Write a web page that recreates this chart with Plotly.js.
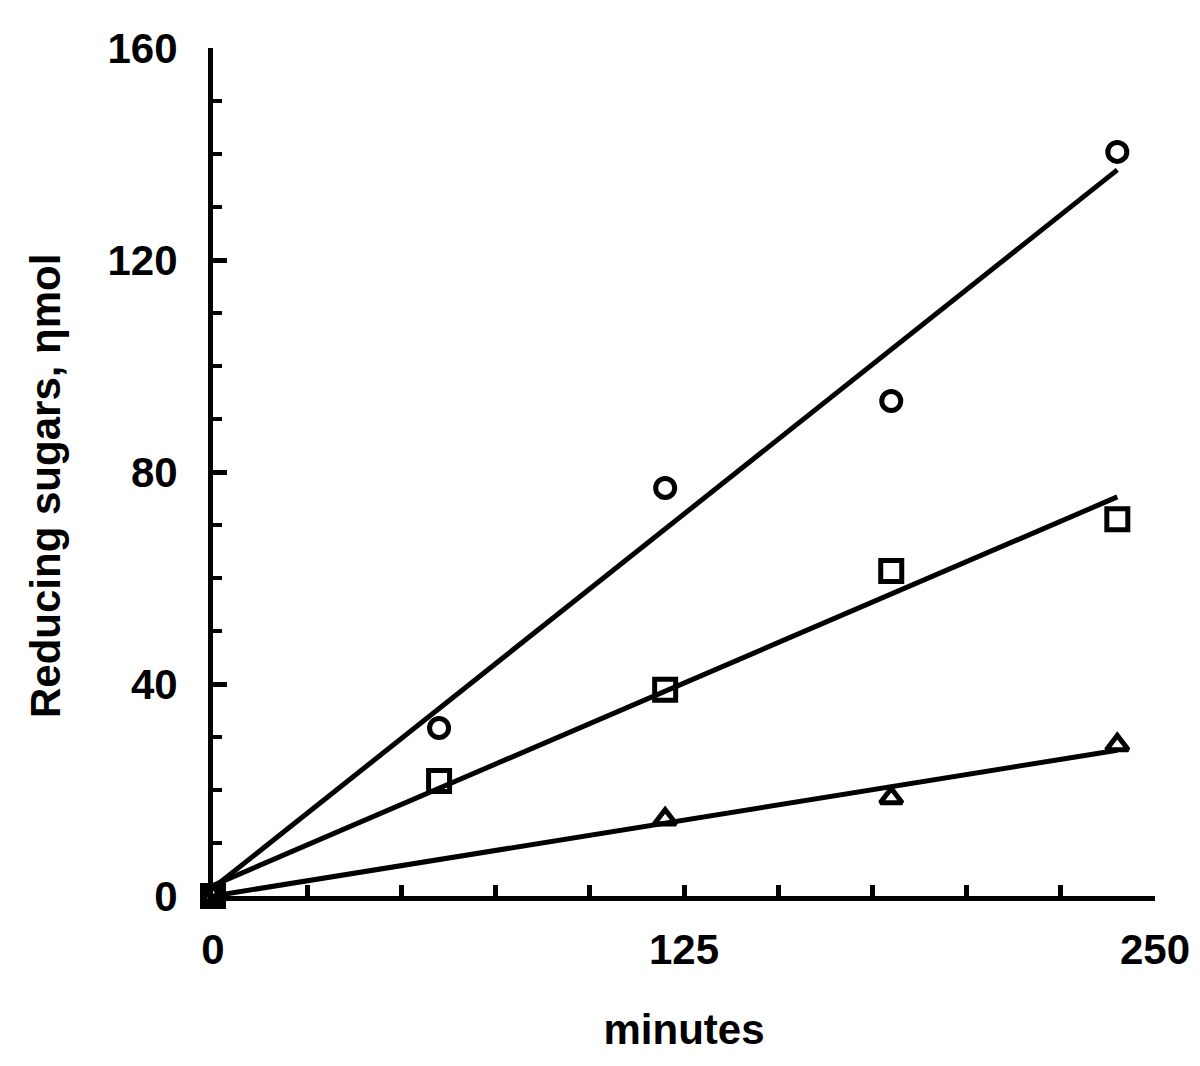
<!DOCTYPE html>
<html>
<head>
<meta charset="utf-8">
<script src="https://cdn.plot.ly/plotly-3.0.1.min.js"></script>
<style>html,body{margin:0;padding:0;background:#fff}#chart{width:1200px;height:1066px}</style>
</head>
<body>
<div id="chart"></div>
<script>
var minutes = [0, 60, 120, 180, 240];
var circleVals = [0, 31.7, 77, 93.4, 140.4];
var squareVals = [0, 21.7, 38.9, 61.3, 71.1];
var triangleMinutes = [0, 120, 180, 240];
var triangleVals = [0, 14.5, 18.5, 28.5];
var fitX = [0, 240];
var circleFit = [1.5, 137];
var squareFit = [2, 75.3];
var triangleFit = [0, 27.5];
var yTitle = 'Reducing sugars, ηmol';
var xTitle = 'minutes';

var lineStyle = {color: '#000', width: 5};
var font = {family: 'Liberation Sans, Arial, sans-serif', size: 42, color: '#000', weight: 'bold'};

var traces = [
  {x: fitX, y: circleFit, mode: 'lines', line: lineStyle, cliponaxis: false},
  {x: fitX, y: squareFit, mode: 'lines', line: lineStyle, cliponaxis: false},
  {x: fitX, y: triangleFit, mode: 'lines', line: lineStyle, cliponaxis: false},
  {x: minutes, y: circleVals, mode: 'markers', cliponaxis: false,
   marker: {symbol: 'circle-open', size: 19, color: '#000', line: {width: 5, color: '#000'}}},
  {x: minutes, y: squareVals, mode: 'markers', cliponaxis: false,
   marker: {symbol: 'square-open', size: 21, color: '#000', line: {width: 5, color: '#000'}}},
  {x: triangleMinutes, y: triangleVals, mode: 'markers', cliponaxis: false,
   marker: {symbol: 'triangle-up-open', size: 19, color: '#000', line: {width: 5, color: '#000'}}}
];

var layout = {
  width: 1200, height: 1066,
  margin: {l: 213, r: 45, t: 48, b: 170},
  paper_bgcolor: '#fff', plot_bgcolor: '#fff',
  showlegend: false,
  font: font,
  xaxis: {
    range: [0, 250], tickvals: [0, 125, 250], ticktext: ['0', '125', '250'],
    ticks: 'inside', ticklen: 11, tickwidth: 5, tickcolor: '#000',
    showline: true, linewidth: 5, linecolor: '#000',
    showgrid: false, zeroline: false,
    tickfont: font, ticklabelstandoff: 13,
    minor: {dtick: 25, tick0: 0, ticks: 'inside', ticklen: 11, tickwidth: 5, tickcolor: '#000', showgrid: false},
    title: {text: xTitle, font: font, standoff: 44}
  },
  yaxis: {
    range: [0, 160], tickvals: [0, 40, 80, 120, 160],
    ticks: 'inside', ticklen: 14, tickwidth: 5, tickcolor: '#000',
    showline: true, linewidth: 5, linecolor: '#000',
    showgrid: false, zeroline: false,
    tickfont: font, ticklabelstandoff: 22,
    minor: {dtick: 10, tick0: 0, ticks: 'inside', ticklen: 9, tickwidth: 4, tickcolor: '#000', showgrid: false}
  },
  annotations: [{
    text: yTitle, font: font, textangle: -90, showarrow: false,
    xref: 'paper', yref: 'paper', x: -168 / 942, y: 410 / 848,
    xanchor: 'center', yanchor: 'middle'
  }]
};

Plotly.newPlot('chart', traces, layout, {staticPlot: true, displayModeBar: false});
</script>
</body>
</html>
